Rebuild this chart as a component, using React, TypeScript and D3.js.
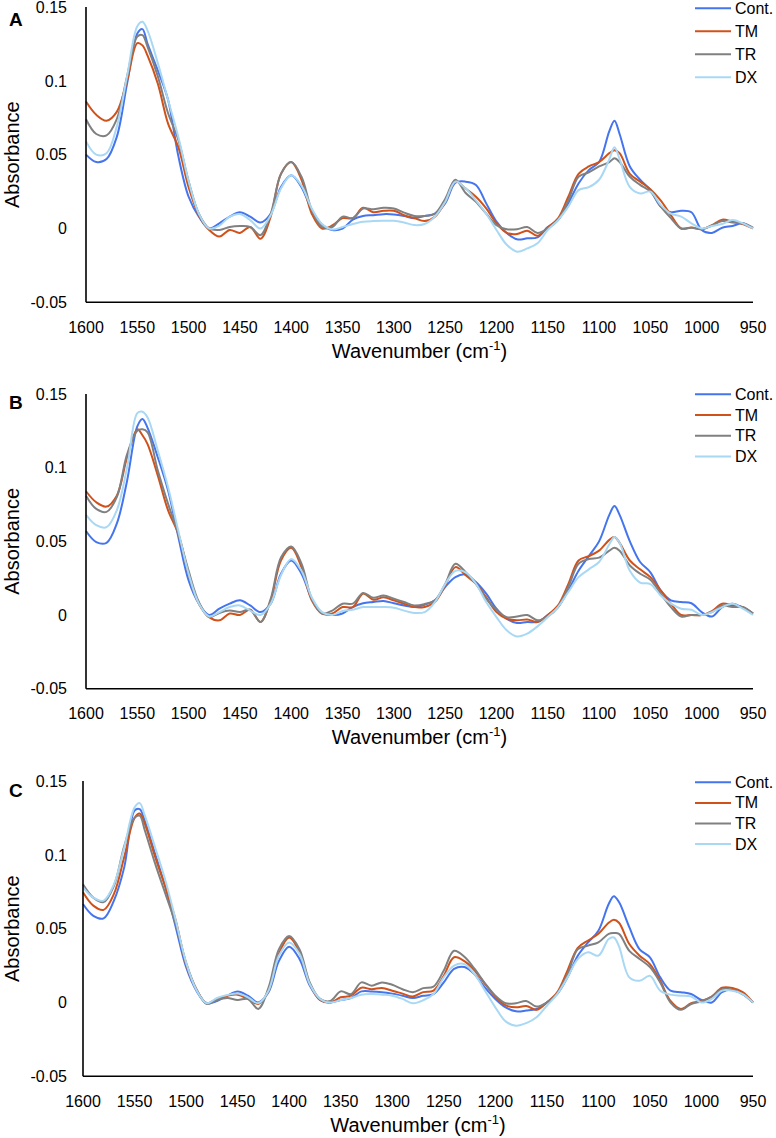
import React from 'react';
import * as d3 from 'd3';

// Shared wavenumber grid (cm-1)
const wavenumbers = [
  1600, 1590, 1580, 1570, 1560, 1550, 1545, 1540, 1530, 1520, 1510, 1500, 1490, 1480, 1470, 1460, 1450, 1440, 1430, 1420,
  1410, 1400, 1390, 1380, 1370, 1360, 1350, 1340, 1330, 1320, 1310, 1300, 1290, 1280, 1270, 1260, 1250, 1240, 1230, 1220,
  1210, 1200, 1190, 1180, 1170, 1160, 1150, 1140, 1130, 1120, 1110, 1100, 1090, 1085, 1080, 1070, 1060, 1050, 1040, 1030,
  1020, 1010, 1000, 990, 980, 970, 960, 950,
];

const seriesNames = ['Cont.', 'TM', 'TR', 'DX'];
const seriesColors = ['#4474EE', '#D0521A', '#808080', '#A8D8F4'];
const panelLetters = ['A', 'B', 'C'];
const xTicks = [1600, 1550, 1500, 1450, 1400, 1350, 1300, 1250, 1200, 1150, 1100, 1050, 1000, 950];
const yTicks = [-0.05, 0, 0.05, 0.1, 0.15];
const yTickLabels = ['-0.05', '0', '0.05', '0.1', '0.15'];

// Panel A
const contA = [
  0.050, 0.045, 0.047, 0.062, 0.098, 0.132, 0.135, 0.125, 0.107, 0.087, 0.049, 0.0215, 0.008, 0.0, 0.0035, 0.008, 0.011, 0.008, 0.004, 0.010,
  0.028, 0.036, 0.028, 0.0125, 0.0025, -0.001, 0.0, 0.006, 0.0085, 0.009, 0.0097, 0.0095, 0.0085, 0.007, 0.0085, 0.010, 0.017, 0.031, 0.0317, 0.0295,
  0.017, 0.0046, -0.003, -0.0073, -0.0067, -0.006, 0.001, 0.0058, 0.017, 0.0305, 0.0395, 0.045, 0.066, 0.073, 0.064, 0.042, 0.033, 0.026, 0.0148, 0.011,
  0.012, 0.011, -0.001, -0.003, 0.0005, 0.0017, 0.0035, 0.0,
];
const tmA = [
  0.086, 0.077, 0.073, 0.079, 0.100, 0.1255, 0.124, 0.117, 0.098, 0.071, 0.055, 0.028, 0.009, -0.001, -0.0055, -0.001, -0.003, 0.001, -0.007, 0.008,
  0.037, 0.045, 0.033, 0.010, 0.0, 0.002, 0.007, 0.007, 0.014, 0.011, 0.012, 0.012, 0.009, 0.007, 0.005, 0.008, 0.018, 0.0317, 0.027, 0.0215,
  0.0136, 0.0035, -0.003, -0.0037, -0.0015, -0.005, 0.0008, 0.0068, 0.0215, 0.037, 0.042, 0.045, 0.051, 0.053, 0.051, 0.037, 0.0317, 0.0266, 0.019, 0.009,
  0.0, 0.0007, -0.0005, 0.0023, 0.006, 0.0046, 0.003, 0.0,
];
const trA = [
  0.074, 0.064, 0.063, 0.074, 0.103, 0.130, 0.131, 0.123, 0.103, 0.078, 0.060, 0.032, 0.010, 0.0, -0.001, 0.001, 0.0016, 0.001, -0.0045, 0.010,
  0.037, 0.045, 0.035, 0.0125, 0.001, 0.001, 0.008, 0.007, 0.0135, 0.013, 0.014, 0.0135, 0.0107, 0.0085, 0.0085, 0.010, 0.020, 0.033, 0.024, 0.018,
  0.010, 0.0023, -0.0005, -0.0005, 0.001, -0.003, 0.0, 0.0057, 0.019, 0.035, 0.038, 0.042, 0.045, 0.0475, 0.045, 0.035, 0.0295, 0.025, 0.015, 0.007,
  0.0, 0.0005, -0.0005, 0.002, 0.005, 0.004, 0.0035, 0.0005,
];
const dxA = [
  0.059, 0.050, 0.051, 0.069, 0.103, 0.137, 0.140, 0.134, 0.112, 0.087, 0.062, 0.032, 0.010, 0.0, 0.002, 0.008, 0.0098, 0.0057, 0.0, 0.009,
  0.027, 0.036, 0.029, 0.0135, 0.003, -0.0007, 0.001, 0.003, 0.0045, 0.005, 0.0052, 0.0052, 0.004, 0.0023, 0.003, 0.008, 0.018, 0.0317, 0.027, 0.019,
  0.010, -0.001, -0.011, -0.0157, -0.0135, -0.010, -0.001, 0.0057, 0.0148, 0.026, 0.028, 0.033, 0.047, 0.055, 0.047, 0.028, 0.0237, 0.025, 0.016, 0.010,
  0.008, 0.0035, 0.0, 0.0017, 0.003, 0.0057, 0.0035, 0.0,
];

// Panel B
const contB = [
  0.057, 0.0495, 0.049, 0.062, 0.091, 0.128, 0.133, 0.127, 0.107, 0.0845, 0.053, 0.0235, 0.0077, 0.0, 0.0043, 0.0077, 0.010, 0.0065, 0.002, 0.0077,
  0.028, 0.037, 0.028, 0.011, 0.0014, 0.0, 0.001, 0.0054, 0.008, 0.0088, 0.0095, 0.008, 0.0065, 0.0054, 0.007, 0.010, 0.019, 0.0257, 0.0275, 0.0224,
  0.0145, 0.0043, -0.0025, -0.0054, -0.0047, -0.0047, 0.0, 0.0054, 0.0167, 0.030, 0.040, 0.050, 0.068, 0.074, 0.068, 0.050, 0.036, 0.029, 0.0167, 0.010,
  0.0088, 0.008, 0.002, -0.001, 0.0054, 0.0077, 0.005, 0.001,
];
const tmB = [
  0.084, 0.0765, 0.0736, 0.081, 0.107, 0.126, 0.122, 0.116, 0.0946, 0.071, 0.055, 0.028, 0.0077, -0.0014, -0.0036, 0.001, 0.0, 0.0036, -0.0047, 0.010,
  0.037, 0.0456, 0.0325, 0.010, 0.001, 0.001, 0.0054, 0.0054, 0.0145, 0.0104, 0.012, 0.010, 0.0077, 0.0054, 0.0055, 0.0088, 0.020, 0.0325, 0.027, 0.0212,
  0.012, 0.002, -0.0025, -0.0036, -0.003, -0.0047, 0.0, 0.0065, 0.021, 0.037, 0.040, 0.0437, 0.051, 0.053, 0.049, 0.037, 0.031, 0.0257, 0.0167, 0.0077,
  0.0, 0.0, 0.0, 0.0027, 0.0077, 0.0065, 0.0054, 0.001,
];
const trB = [
  0.081, 0.072, 0.070, 0.080, 0.109, 0.125, 0.126, 0.124, 0.098, 0.0754, 0.055, 0.030, 0.0088, -0.0014, 0.0014, 0.003, 0.002, 0.0036, -0.0047, 0.011,
  0.039, 0.0465, 0.0348, 0.011, 0.001, 0.003, 0.0077, 0.0077, 0.015, 0.0117, 0.0133, 0.011, 0.0088, 0.0065, 0.0075, 0.010, 0.021, 0.0348, 0.029, 0.0212,
  0.011, 0.0036, -0.0014, -0.001, 0.0, -0.0036, -0.001, 0.0054, 0.019, 0.0348, 0.038, 0.039, 0.0437, 0.0456, 0.0437, 0.0336, 0.028, 0.024, 0.0145, 0.0054,
  -0.001, 0.0, 0.0, 0.002, 0.0065, 0.0054, 0.0054, 0.001,
];
const dxB = [
  0.068, 0.061, 0.0596, 0.071, 0.100, 0.137, 0.138, 0.134, 0.1115, 0.0867, 0.057, 0.028, 0.0077, -0.001, 0.002, 0.0054, 0.0065, 0.003, 0.0, 0.0077,
  0.027, 0.038, 0.030, 0.012, 0.002, 0.0, 0.0027, 0.0036, 0.0054, 0.0054, 0.0054, 0.005, 0.003, 0.0014, 0.002, 0.0088, 0.021, 0.030, 0.029, 0.0212,
  0.0088, -0.0014, -0.0104, -0.0145, -0.0126, -0.0077, -0.0014, 0.0054, 0.0156, 0.0257, 0.031, 0.036, 0.048, 0.053, 0.049, 0.030, 0.022, 0.021, 0.0133, 0.0077,
  0.0043, 0.0036, 0.0, 0.002, 0.0054, 0.0077, 0.0043, 0.0,
];

// Panel C
const contC = [
  0.0667, 0.0587, 0.057, 0.069, 0.0915, 0.130, 0.131, 0.123, 0.1005, 0.078, 0.051, 0.024, 0.008, -0.0005, 0.001, 0.0046, 0.0075, 0.0046, 0.0, 0.007,
  0.028, 0.0378, 0.0295, 0.0114, 0.0017, 0.0, 0.0017, 0.003, 0.0075, 0.0075, 0.007, 0.006, 0.0046, 0.003, 0.0045, 0.0057, 0.0136, 0.0227, 0.024, 0.019,
  0.010, 0.0024, -0.0033, -0.006, -0.0055, -0.0044, 0.0, 0.0057, 0.017, 0.0317, 0.0407, 0.0486, 0.0667, 0.072, 0.068, 0.051, 0.036, 0.0306, 0.017, 0.008,
  0.007, 0.0057, 0.0017, 0.0, 0.007, 0.0085, 0.0057, 0.0,
];
const tmC = [
  0.0747, 0.0656, 0.0627, 0.0735, 0.0985, 0.125, 0.128, 0.121, 0.0985, 0.078, 0.0555, 0.026, 0.009, -0.0005, 0.0024, 0.0046, 0.0053, 0.0024, -0.001, 0.008,
  0.033, 0.044, 0.034, 0.0125, 0.0017, 0.0, 0.0035, 0.0046, 0.010, 0.009, 0.0098, 0.008, 0.006, 0.004, 0.007, 0.008, 0.018, 0.0306, 0.028, 0.0216,
  0.0125, 0.004, -0.002, -0.0033, -0.0024, -0.005, 0.0, 0.0068, 0.0216, 0.037, 0.042, 0.0465, 0.054, 0.056, 0.054, 0.0396, 0.0317, 0.026, 0.0147, 0.001,
  -0.0044, -0.0005, 0.001, 0.004, 0.010, 0.0098, 0.007, 0.0,
];
const trC = [
  0.080, 0.071, 0.068, 0.079, 0.106, 0.125, 0.1265, 0.1165, 0.094, 0.0735, 0.053, 0.027, 0.009, -0.001, 0.0017, 0.003, 0.0017, 0.0024, -0.0044, 0.010,
  0.036, 0.045, 0.036, 0.0136, 0.0024, 0.001, 0.0075, 0.0057, 0.0136, 0.0114, 0.0136, 0.012, 0.009, 0.007, 0.0097, 0.0107, 0.0216, 0.035, 0.031, 0.0227,
  0.013, 0.0046, -0.0005, -0.0005, 0.001, -0.0028, 0.0, 0.006, 0.019, 0.036, 0.0385, 0.0407, 0.0465, 0.047, 0.0465, 0.035, 0.0295, 0.024, 0.0136, 0.0,
  -0.005, -0.001, 0.0007, 0.004, 0.009, 0.0085, 0.0057, 0.0,
];
const dxC = [
  0.078, 0.071, 0.069, 0.080, 0.105, 0.132, 0.135, 0.1265, 0.105, 0.0825, 0.0555, 0.027, 0.0085, -0.0005, 0.003, 0.005, 0.006, 0.0035, -0.0005, 0.008,
  0.0316, 0.0407, 0.033, 0.0125, 0.0024, 0.0, 0.0017, 0.003, 0.0053, 0.0057, 0.0053, 0.0046, 0.0024, -0.0005, 0.0015, 0.0057, 0.017, 0.025, 0.026, 0.019,
  0.008, -0.0033, -0.0128, -0.0157, -0.014, -0.010, -0.0022, 0.0057, 0.017, 0.0294, 0.034, 0.0317, 0.043, 0.044, 0.038, 0.017, 0.0147, 0.018, 0.008, 0.0053,
  0.0046, 0.004, 0.0, 0.0024, 0.008, 0.008, 0.0057, 0.0,
];

const panelSeries = [
  [contA, tmA, trA, dxA],
  [contB, tmB, trB, dxB],
  [contC, tmC, trC, dxC],
];

// Layout (pixels)
const layouts = [
  { top: 7, bottom: 302.3, left: 86, letterY: 26, legendTop: 8.3, legendGap: 23 },
  { top: 394, bottom: 688.7, left: 86, letterY: 409, legendTop: 394.3, legendGap: 20.7 },
  { top: 781, bottom: 1076.3, left: 83, letterY: 797, legendTop: 782.3, legendGap: 20.6 },
];
const plotRight = 753;
const FONT = '"Liberation Sans", Arial, sans-serif';

function Panel({ idx }: { idx: number }) {
  const L = layouts[idx];
  const x = d3.scaleLinear().domain([1600, 950]).range([L.left, plotRight]);
  const y = d3.scaleLinear().domain([-0.05, 0.15]).range([L.bottom, L.top]);
  const line = d3
    .line<number>()
    .x((_, i) => x(wavenumbers[i]))
    .y((d) => y(d))
    .curve(d3.curveCatmullRom.alpha(0.5));
  const series = panelSeries[idx];
  const midY = (L.top + L.bottom) / 2;
  const midX = (L.left + plotRight) / 2;
  return (
    <g>
      {/* panel letter */}
      <text x={9} y={L.letterY} fontFamily={FONT} fontWeight="bold" fontSize={19} fill="#000">
        {panelLetters[idx]}
      </text>
      {/* y tick labels */}
      {yTicks.map((t, i) => (
        <text key={'yt' + i} x={67} y={y(t) + 5.7} textAnchor="end" fontFamily={FONT} fontSize={16} fill="#000">
          {yTickLabels[i]}
        </text>
      ))}
      {/* x tick labels */}
      {xTicks.map((t) => (
        <text key={'xt' + t} x={x(t)} y={L.bottom + 30.5} textAnchor="middle" fontFamily={FONT} fontSize={16} fill="#000">
          {t}
        </text>
      ))}
      {/* axis titles */}
      <text
        transform={`translate(19,${midY}) rotate(-90)`}
        textAnchor="middle"
        fontFamily={FONT}
        fontSize={20}
        fill="#000"
      >
        Absorbance
      </text>
      <text x={midX} y={L.bottom + 55.5} textAnchor="middle" fontFamily={FONT} fontSize={20} fill="#000">
        Wavenumber (cm
        <tspan fontSize={13} dy={-8}>-1</tspan>
        <tspan dy={8}>)</tspan>
      </text>
      {/* series */}
      {series.map((vals, i) => (
        <path key={'s' + i} d={line(vals) || ''} fill="none" stroke={seriesColors[i]} strokeWidth={2} strokeLinejoin="round" />
      ))}
      {/* axes */}
      <line x1={L.left} x2={L.left} y1={y(0.15)} y2={y(-0.05)} stroke="#000" strokeWidth={1.6} />
      <line x1={L.left} x2={plotRight} y1={y(-0.05)} y2={y(-0.05)} stroke="#000" strokeWidth={1.6} />
      {/* legend */}
      {seriesNames.map((n, i) => {
        const ly = L.legendTop + i * L.legendGap;
        return (
          <g key={'lg' + i}>
            <line x1={695} x2={731} y1={ly} y2={ly} stroke={seriesColors[i]} strokeWidth={2} />
            <text x={735} y={ly + 5.5} fontFamily={FONT} fontSize={16} fill="#000">
              {n}
            </text>
          </g>
        );
      })}
    </g>
  );
}

export default function App() {
  return (
    <svg
      width={776}
      height={1138}
      style={{ position: 'absolute', left: 0, top: 0, background: '#fff' }}
      xmlns="http://www.w3.org/2000/svg"
    >
      <rect x={0} y={0} width={776} height={1138} fill="#fff" />
      {[0, 1, 2].map((i) => (
        <Panel key={i} idx={i} />
      ))}
    </svg>
  );
}
